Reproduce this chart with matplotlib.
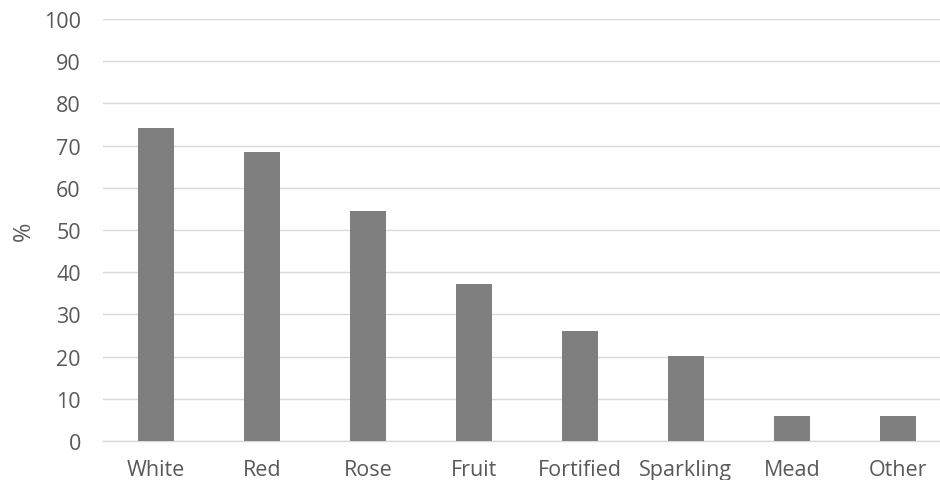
import matplotlib
matplotlib.use("Agg")
import matplotlib.pyplot as plt
import numpy as np

# wine types and share of respondents (%)
categories = ["White", "Red", "Rose", "Fruit", "Fortified", "Sparkling", "Mead", "Other"]
values = [74.2, 68.6, 54.4, 37.3, 26.0, 20.2, 6.0, 6.0]
y_ticks = [0, 10, 20, 30, 40, 50, 60, 70, 80, 90, 100]

plt.rcParams["font.family"] = ["Open Sans", "DejaVu Sans"]

fig = plt.figure(figsize=(9.4, 4.81), dpi=100)
ax = fig.add_axes([103 / 940, 39 / 481, 848 / 940, 422 / 481])

x = np.arange(len(categories))
ax.bar(x, values, width=0.337, color="#7f7f7f", zorder=3)

ax.set_xlim(-0.5, len(categories) - 0.5)
ax.set_ylim(0, 100)
ax.set_yticks(y_ticks)
ax.set_yticklabels([str(t) for t in y_ticks])
ax.set_xticks(x)
ax.set_xticklabels(categories)

ax.grid(axis="y", color="#d9d9d9", linewidth=1.0, zorder=0)
for side in ["top", "right", "left"]:
    ax.spines[side].set_visible(False)
ax.spines["bottom"].set_color("#d9d9d9")
ax.spines["bottom"].set_linewidth(1.0)

ax.tick_params(axis="both", length=0, labelsize=15.5, colors="#595959")
ax.tick_params(axis="y", pad=16)
ax.tick_params(axis="x", pad=13)

ax.set_ylabel("%", fontsize=17, color="#595959", labelpad=6)

fig.savefig("out.png", dpi=100)
